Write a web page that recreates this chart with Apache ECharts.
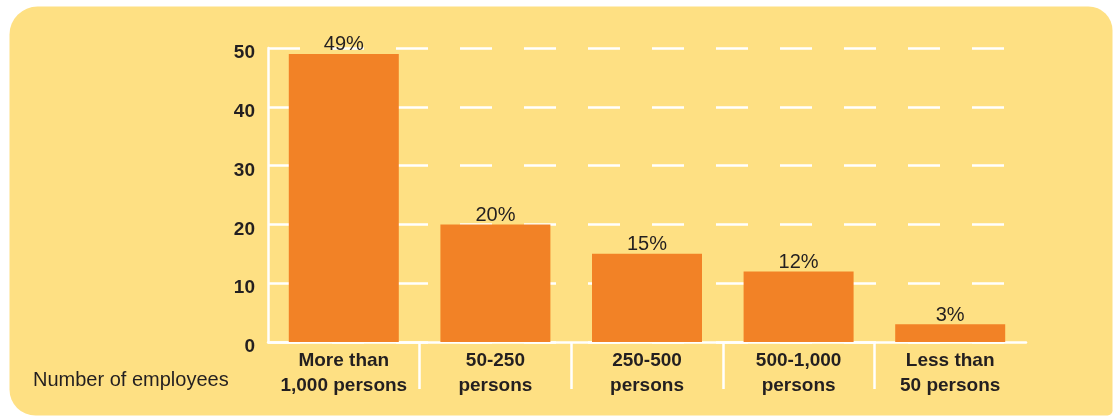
<!DOCTYPE html>
<html>
<head>
<meta charset="utf-8">
<title>Number of employees</title>
<script src="https://cdn.jsdelivr.net/npm/echarts@6/dist/echarts.min.js"></script>
<style>
  html, body { margin: 0; padding: 0; background: #ffffff; }
  #chart { width: 1113px; height: 416px; }
</style>
</head>
<body>
<div id="chart"></div>
<script>
// Company size groups and the share of respondents in each (%)
const sizeGroups = [
  'More than\n1,000 persons',
  '50-250\npersons',
  '250-500\npersons',
  '500-1,000\npersons',
  'Less than\n50 persons'
];
const shares = [49, 20, 15, 12, 3];

// Value axis ticks
const shareTicks = [0, 10, 20, 30, 40, 50];

// Separator positions between neighbouring groups (band edges)
const groupEdges = [1, 2, 3, 4];

const ink = '#231F20';
const panel = '#FEE083';
const barColor = '#F28226';
const white = '#FFFFFF';

const chart = echarts.init(document.getElementById('chart'), null, { renderer: 'canvas' });

chart.setOption({
  backgroundColor: '#FFFFFF',
  animation: false,
  graphic: [{
    type: 'rect',
    z: -100,
    silent: true,
    shape: { x: 9.5, y: 6.5, width: 1103, height: 409, r: [28, 24, 5, 26] },
    style: { fill: panel }
  }],
  title: {
    text: 'Number of employees',
    left: 33,
    top: 370,
    padding: 0,
    textStyle: { color: ink, fontFamily: 'Liberation Sans, Arial, sans-serif', fontSize: 20, fontWeight: 'normal' }
  },
  grid: { left: 268, right: 87, top: 48, height: 294 },
  xAxis: [{
    type: 'category',
    data: sizeGroups,
    axisLine: { show: true, lineStyle: { color: white, width: 2.5 } },
    axisTick: { show: false },
    axisLabel: {
      color: ink,
      fontFamily: 'Liberation Sans, Arial, sans-serif',
      fontSize: 19,
      fontWeight: 'bold',
      lineHeight: 25,
      margin: 6,
      interval: 0
    },
    splitLine: { show: false }
  }, {
    // Vertical separators below the baseline between the groups
    type: 'value',
    position: 'bottom',
    min: 0,
    max: sizeGroups.length,
    axisLine: { show: false },
    axisLabel: { show: false },
    splitLine: { show: false },
    axisTick: {
      show: true,
      customValues: groupEdges,
      length: 47,
      lineStyle: { color: white, width: 2.5 }
    }
  }],
  yAxis: {
    type: 'value',
    min: shareTicks[0],
    max: shareTicks[shareTicks.length - 1],
    interval: shareTicks[1] - shareTicks[0],
    axisLine: { show: true, lineStyle: { color: white, width: 2.5 } },
    axisTick: { show: false },
    axisLabel: {
      color: ink,
      fontFamily: 'Liberation Sans, Arial, sans-serif',
      fontSize: 19,
      fontWeight: 'bold',
      margin: 13,
      verticalAlign: 'top',
      lineHeight: 10
    },
    splitLine: {
      show: true,
      lineStyle: { color: white, width: 2.5, type: [32, 32] }
    }
  },
  series: [{
    type: 'bar',
    xAxisIndex: 0,
    data: shares,
    barWidth: 110,
    itemStyle: { color: barColor },
    label: {
      show: true,
      position: 'top',
      distance: -1,
      formatter: '{c}%',
      color: ink,
      fontFamily: 'Liberation Sans, Arial, sans-serif',
      fontSize: 20,
      fontWeight: 'normal'
    }
  }]
});
</script>
</body>
</html>
